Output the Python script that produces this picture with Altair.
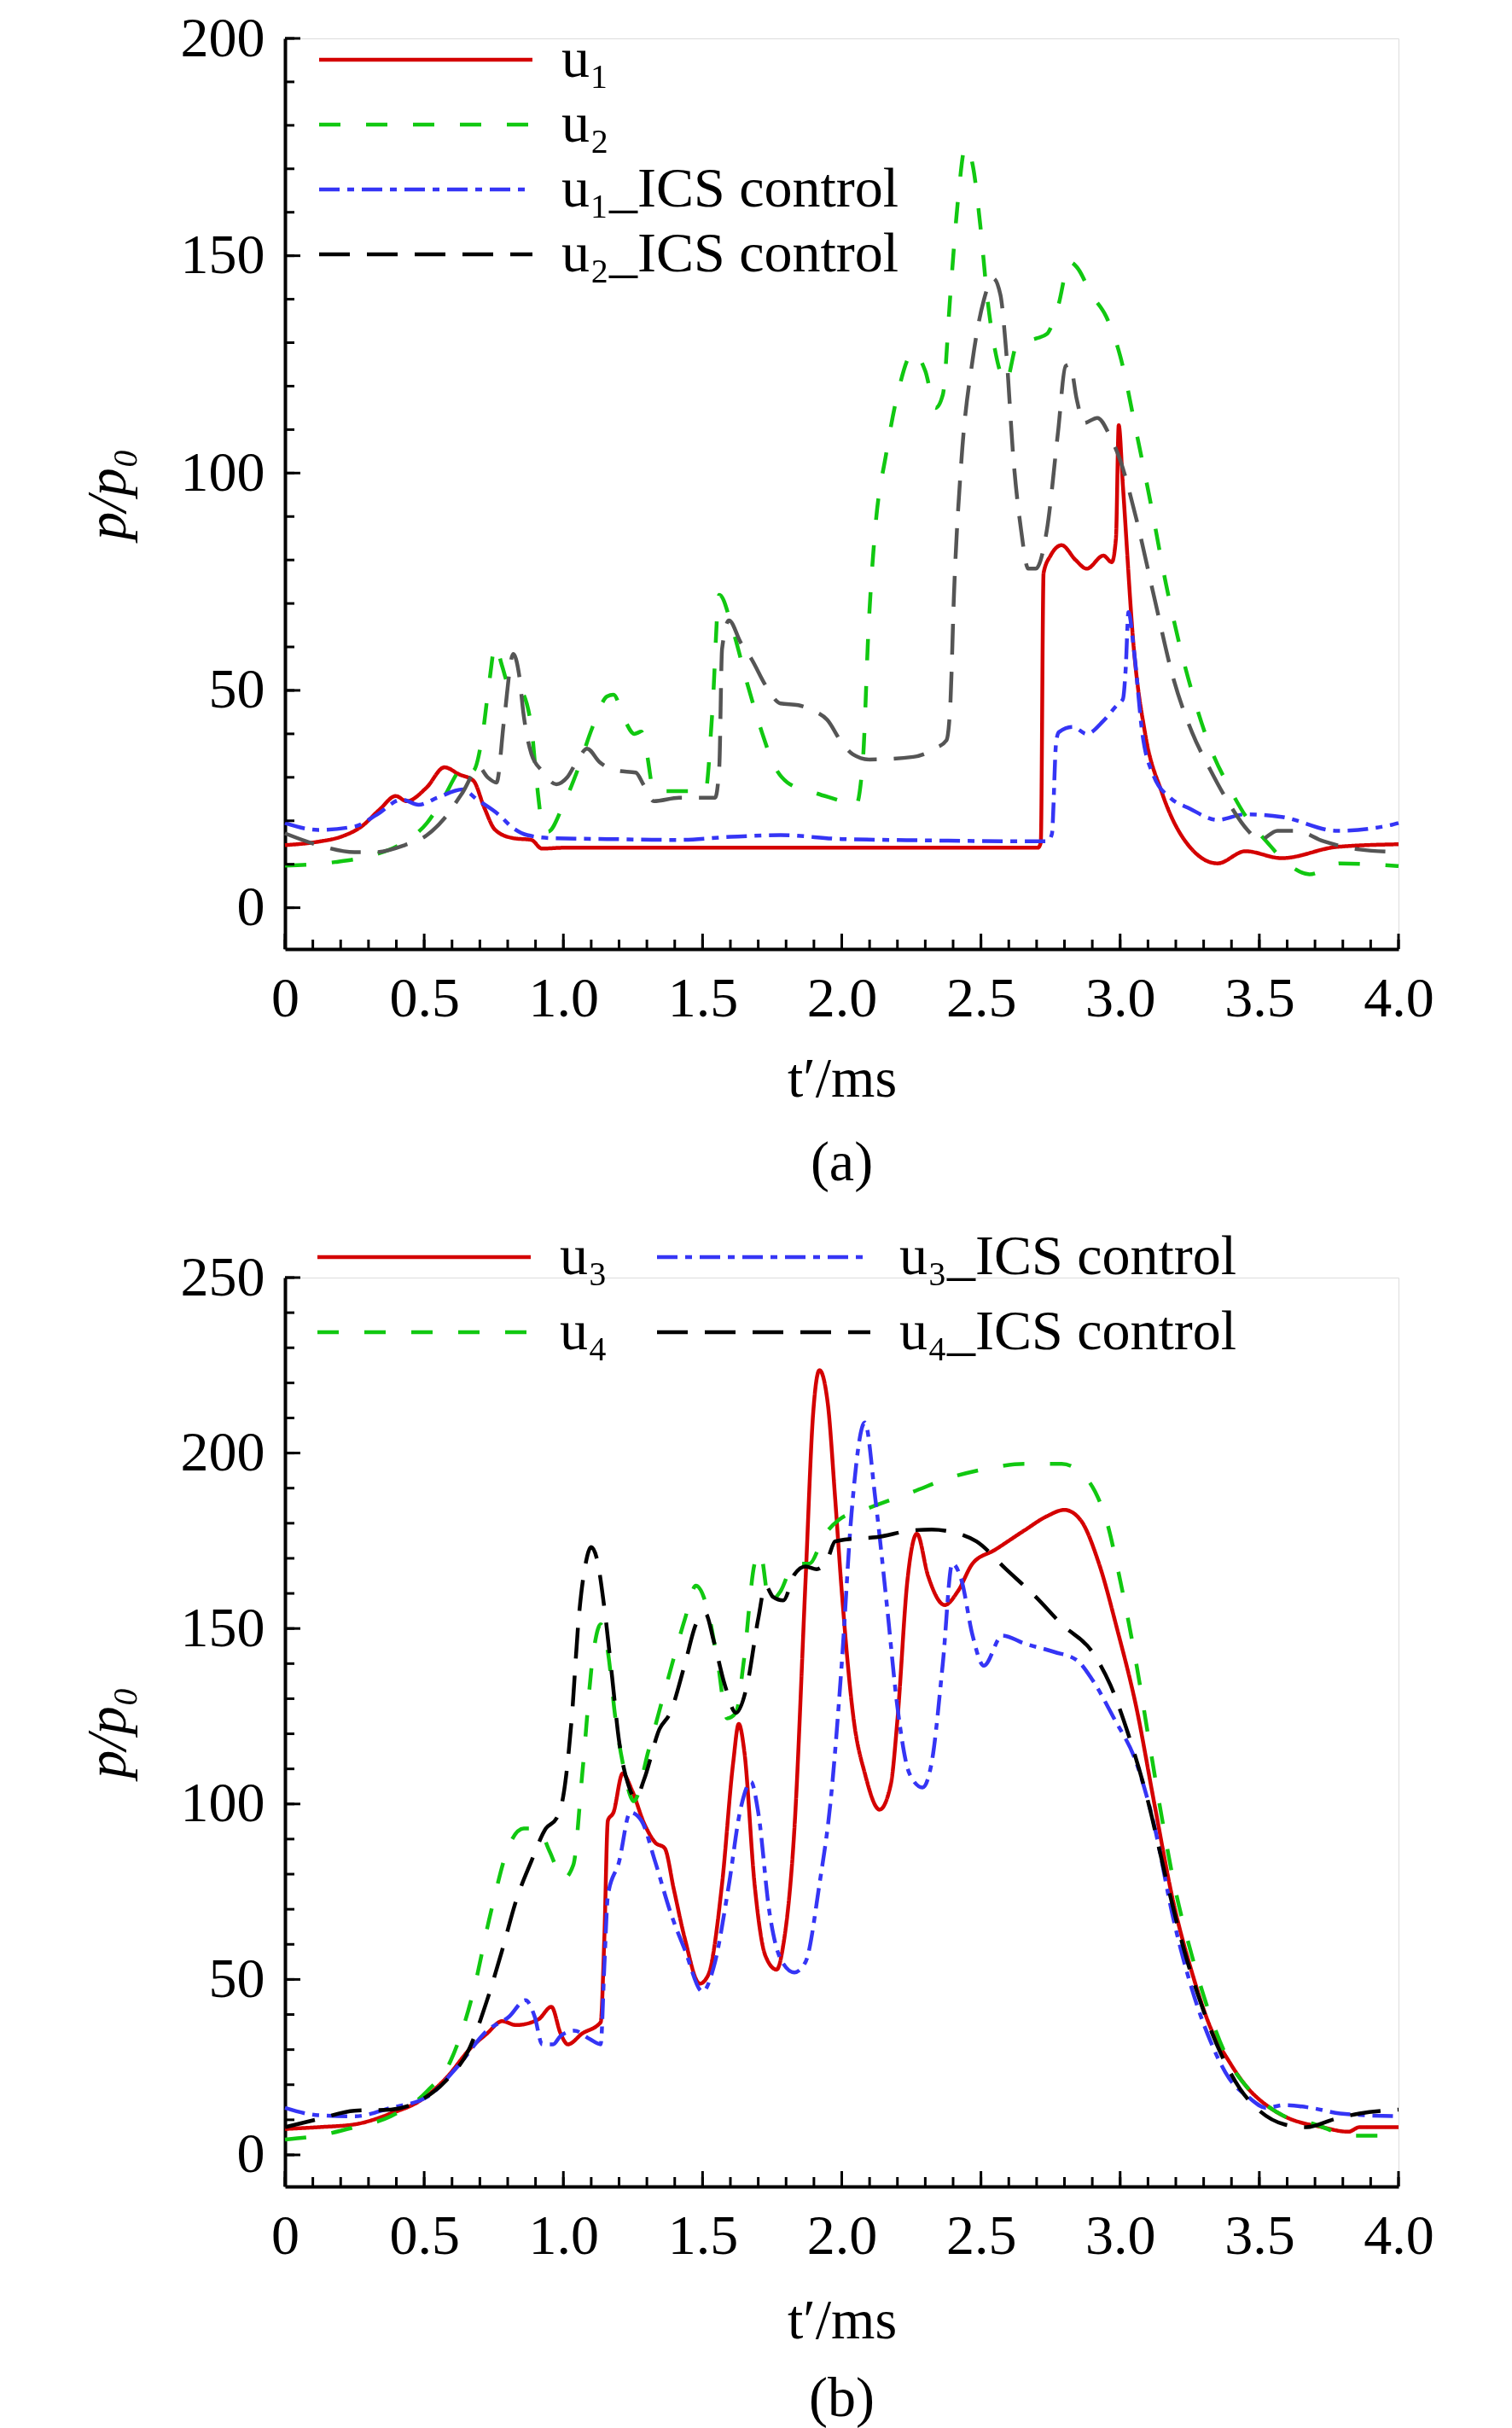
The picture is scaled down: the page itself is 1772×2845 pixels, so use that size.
import altair as alt
import pandas as pd

# ---------------- Panel (a) data ----------------
u1_t = [0, 0.12, 0.2, 0.275, 0.34, 0.398, 0.437, 0.508, 0.573, 0.625, 0.677, 0.716, 0.755, 0.82, 0.885, 0.923,
        1.0, 1.5, 2.0, 2.5, 2.705, 2.715, 2.725, 2.75, 2.79, 2.84, 2.88, 2.94, 2.97, 2.985, 2.995, 3.01, 3.05,
        3.09, 3.15, 3.25, 3.35, 3.45, 3.58, 3.78, 4.0]
u1_v = [14.4, 15.2, 16.3, 18.7, 22.6, 25.7, 24.5, 27.6, 32.3, 30.7, 29.2, 23.0, 17.9, 16.0, 15.6, 13.6,
        13.8, 13.8, 13.8, 13.8, 13.8, 15.0, 77.0, 81.0, 83.4, 80.0, 78.0, 81.0, 79.5, 85.0, 111.0, 97.0, 59.0,
        40.0, 26.5, 14.0, 10.2, 13.0, 11.4, 14.0, 14.6]

u2_t = [0, 0.18, 0.31, 0.42, 0.51, 0.57, 0.625, 0.65, 0.675, 0.71, 0.735, 0.755, 0.78, 0.8, 0.845, 0.885,
        0.905, 0.925, 0.945, 1.0, 1.05, 1.105, 1.157, 1.18, 1.22, 1.255, 1.28, 1.3, 1.325, 1.39, 1.47, 1.51,
        1.535, 1.56, 1.61, 1.66, 1.715, 1.755, 1.805, 1.9, 2.0, 2.05, 2.076, 2.096, 2.12, 2.16, 2.2, 2.257,
        2.3, 2.337, 2.363, 2.39, 2.417, 2.444, 2.47, 2.497, 2.524, 2.55, 2.59, 2.63, 2.7, 2.737, 2.778, 2.818,
        2.844, 2.898, 2.95, 3.0, 3.058, 3.11, 3.165, 3.218, 3.272, 3.325, 3.39, 3.46, 3.525, 3.59, 3.68,
        3.79, 4.0]
u2_v = [9.7, 10.5, 12.0, 14.8, 19.5, 25.3, 31.5, 33.0, 31.5, 40.0, 52.5, 60.3, 55.6, 51.7, 50.2, 41.6,
        28.4, 19.0, 17.5, 23.7, 31.5, 41.6, 48.6, 49.0, 43.2, 40.0, 40.5, 35.4, 26.8, 26.8, 26.8, 26.8,
        45.0, 72.0, 63.6, 51.7, 40.0, 33.0, 28.8, 26.5, 24.5, 23.4, 34.0, 64.0, 87.0, 104.6, 118.0, 127.8,
        123.5, 115.0, 118.0, 141.0, 162.5, 175.0, 171.0, 157.4, 139.7, 128.5, 121.0, 129.7, 131.0, 132.0,
        138.6, 148.6, 147.4, 141.0, 136.0, 127.0, 109.5, 93.0, 74.4, 59.3, 46.7, 36.7, 27.9, 20.2, 15.3,
        10.8, 7.7, 10.2, 9.6]

u1c_t = [0, 0.12, 0.25, 0.33, 0.42, 0.48, 0.547, 0.638, 0.69, 0.768, 0.82, 0.87, 0.962, 1.157, 1.416, 1.6,
         1.78, 2.0, 2.3, 2.6, 2.74, 2.755, 2.77, 2.78, 2.83, 2.88, 2.94, 2.99, 3.01, 3.02, 3.03, 3.05, 3.08,
         3.12, 3.18, 3.25, 3.35, 3.45, 3.58, 3.78, 3.97, 4.0]
u1c_v = [19.5, 17.9, 18.7, 21.4, 24.9, 23.7, 25.3, 27.2, 24.9, 21.4, 18.3, 16.7, 16.0, 15.8, 15.6, 16.3,
         16.7, 15.8, 15.5, 15.3, 15.3, 17.0, 38.0, 40.4, 41.6, 40.0, 43.0, 46.7, 48.0, 55.0, 68.0, 59.0, 40.0,
         30.4, 25.3, 22.8, 20.2, 21.5, 20.9, 17.7, 19.0, 19.5]

u2c_t = [0, 0.12, 0.25, 0.327, 0.43, 0.51, 0.573, 0.638, 0.697, 0.728, 0.76, 0.787, 0.82, 0.84, 0.858, 0.885,
         0.923, 0.975, 1.014, 1.053, 1.085, 1.13, 1.196, 1.26, 1.287, 1.325, 1.416, 1.545, 1.56, 1.57, 1.595,
         1.637, 1.676, 1.728, 1.78, 1.844, 1.896, 1.948, 2.0, 2.04, 2.1, 2.257, 2.337, 2.376, 2.39, 2.403,
         2.43, 2.47, 2.51, 2.544, 2.57, 2.59, 2.617, 2.644, 2.67, 2.697, 2.737, 2.777, 2.804, 2.82, 2.844,
         2.87, 2.918, 2.965, 3.0, 3.058, 3.125, 3.19, 3.258, 3.325, 3.39, 3.46, 3.5, 3.565, 3.633, 3.73, 3.86,
         4.0]
u2c_v = [17.1, 14.4, 12.8, 12.8, 14.4, 16.7, 20.6, 26.5, 32.3, 30.0, 28.8, 43.2, 58.4, 54.0, 44.0, 35.4,
         31.5, 28.4, 30.0, 34.2, 36.6, 33.5, 31.5, 31.1, 28.4, 24.5, 25.3, 25.3, 32.3, 59.5, 66.1,
         61.0, 57.2, 51.0, 47.0, 46.6, 45.4, 43.2, 38.0, 35.3, 34.1, 34.7, 36.7, 38.5, 46.7, 71.8,
         103.0, 126.0, 139.7, 144.8, 141.0, 128.6, 103.0, 87.0, 78.0, 78.0, 87.0, 109.5, 124.6, 125.0, 117.0,
         111.5, 112.7, 108.3, 103.0, 89.5, 70.7, 53.0, 40.4, 31.6, 24.1, 17.7, 15.5, 17.7, 17.7, 15.3, 13.4,
         12.8]

# ---------------- Panel (b) data ----------------
u3_t = [0, 0.12, 0.25, 0.38, 0.49, 0.58, 0.67, 0.726, 0.78, 0.83, 0.91, 0.957, 0.99, 1.016, 1.068, 1.134,
        1.147, 1.16, 1.18, 1.213, 1.246, 1.29, 1.33, 1.364, 1.397, 1.437, 1.49, 1.52, 1.57, 1.61, 1.63, 1.65,
        1.687, 1.726, 1.766, 1.79, 1.83, 1.87, 1.897, 1.92, 1.95, 1.976, 2.0, 2.043, 2.083, 2.136, 2.176, 2.2,
        2.236, 2.27, 2.31, 2.37, 2.417, 2.47, 2.55, 2.657, 2.737, 2.8, 2.857, 2.924, 2.99, 3.058, 3.125, 3.19,
        3.258, 3.325, 3.39, 3.46, 3.525, 3.59, 3.726, 3.82, 3.86, 4.0]
u3_v = [7.4, 7.9, 8.7, 11.8, 15.7, 22.0, 30.7, 34.6, 38.1, 37.0, 38.6, 42.2, 34.6, 31.5, 34.6, 37.8,
        61.4, 95.3, 97.6, 108.7, 104.0, 94.5, 89.0, 87.4, 75.6, 61.4, 48.8, 51.2, 77.2, 111.8, 122.8, 115.0,
        77.0, 56.7, 52.8, 59.8, 93.0, 163.8, 211.0, 223.6, 214.0, 187.4, 160.6, 124.0, 108.7, 98.4, 105.5,
        124.0, 163.8, 177.0, 165.0, 156.7, 160.6, 168.5, 172.4, 178.0, 182.0, 183.8, 181.0, 168.5, 149.6,
        127.6, 99.2, 72.4, 52.0, 36.2, 26.8, 18.9, 14.2, 11.0, 7.9, 6.6, 7.9, 7.9]

u4_t = [0, 0.12, 0.25, 0.38, 0.51, 0.595, 0.674, 0.74, 0.805, 0.858, 0.91, 0.95, 1.0, 1.036, 1.068, 1.108,
        1.134, 1.16, 1.187, 1.213, 1.253, 1.305, 1.37, 1.437, 1.476, 1.516, 1.555, 1.588, 1.62, 1.647, 1.687,
        1.707, 1.74, 1.78, 1.83, 1.884, 1.936, 1.99, 2.096, 2.257, 2.39, 2.524, 2.657, 2.79, 2.857, 2.91,
        2.95, 3.0, 3.058, 3.11, 3.15, 3.19, 3.258, 3.325, 3.39, 3.46, 3.525, 3.59, 3.7, 3.83, 4.0]
u4_v = [4.4, 5.5, 7.9, 11.0, 18.1, 26.8, 45.7, 69.3, 88.2, 93.0, 93.0, 86.6, 78.7, 82.7, 108.7, 143.3,
        151.2, 143.3, 124.4, 111.8, 100.8, 115.0, 133.9, 152.8, 162.2, 156.0, 140.0, 124.4, 126.0, 140.0,
        168.5, 171.6, 157.5, 160.6, 168.5, 168.5, 176.4, 181.0, 184.3, 189.0, 193.0, 195.6, 196.9, 196.9,
        194.5, 189.0, 181.0, 163.8, 140.0, 115.0, 96.0, 78.7, 56.7, 39.4, 26.8, 18.9, 14.2, 11.0, 8.7, 5.5,
        5.5]

u3c_t = [0, 0.12, 0.25, 0.38, 0.51, 0.62, 0.726, 0.805, 0.864, 0.897, 0.924, 0.963, 0.99, 1.04, 1.095, 1.134,
         1.147, 1.16, 1.2, 1.24, 1.28, 1.33, 1.384, 1.437, 1.5, 1.54, 1.595, 1.634, 1.674, 1.7, 1.74, 1.78,
         1.83, 1.87, 1.92, 1.96, 2.0, 2.035, 2.083, 2.12, 2.163, 2.2, 2.243, 2.29, 2.323, 2.363, 2.397, 2.43,
         2.47, 2.51, 2.577, 2.657, 2.764, 2.844, 2.9, 2.978, 3.058, 3.125, 3.19, 3.258, 3.325, 3.39, 3.46,
         3.525, 3.59, 3.686, 3.79, 4.0]
u3c_v = [13.4, 11.3, 11.0, 13.4, 16.5, 25.2, 35.4, 39.4, 44.1, 39.4, 31.5, 31.5, 33.9, 35.4, 33.0, 31.5,
         53.5, 74.0, 83.5, 97.6, 95.3, 83.5, 69.3, 58.3, 46.5, 53.5, 77.2, 97.6, 106.3, 97.6, 69.3, 55.9,
         52.0, 55.0, 77.2, 100.8, 140.0, 182.7, 208.7, 187.4, 156.0, 127.6, 108.7, 104.7, 111.8, 140.0, 168.5,
         163.8, 148.0, 139.4, 148.0, 145.7, 143.3, 141.0, 135.4, 124.4, 111.8, 93.0, 67.7, 47.2, 32.3, 22.0,
         16.5, 13.4, 14.2, 13.4, 11.8, 11.0]

u4c_t = [0, 0.12, 0.25, 0.38, 0.49, 0.58, 0.66, 0.726, 0.78, 0.83, 0.884, 0.937, 0.976, 1.0, 1.03, 1.055,
         1.08, 1.1, 1.12, 1.147, 1.174, 1.2, 1.233, 1.26, 1.29, 1.345, 1.384, 1.437, 1.476, 1.51, 1.54, 1.58,
         1.62, 1.66, 1.7, 1.726, 1.753, 1.79, 1.83, 1.87, 1.91, 1.95, 1.976, 2.04, 2.123, 2.257, 2.323, 2.39,
         2.484, 2.59, 2.697, 2.79, 2.9, 2.965, 3.03, 3.1, 3.165, 3.23, 3.3, 3.365, 3.43, 3.5, 3.59, 3.67, 3.77,
         3.86, 4.0]
u4c_v = [7.9, 10.2, 12.6, 12.9, 15.7, 21.3, 29.9, 44.1, 58.3, 72.4, 83.5, 93.0, 96.0, 102.4, 124.4, 152.8,
         168.5, 173.2, 170.0, 156.0, 137.0, 118.0, 105.5, 101.6, 107.0, 121.3, 126.0, 140.0, 151.2, 154.3,
         146.5, 133.9, 126.0, 133.9, 152.8, 162.2, 159.0, 158.0, 165.4, 167.7, 166.9, 170.0, 174.8, 175.6,
         176.0, 178.0, 178.2, 177.6, 174.8, 166.9, 159.0, 151.2, 143.3, 133.9, 119.7, 100.8, 78.7, 58.3, 41.0,
         28.3, 18.9, 12.6, 8.7, 7.9, 10.2, 11.8, 12.9]

# ---------------- labels / ticks ----------------
names_a = ["u₁", "u₂", "u₁_ICS control", "u₂_ICS control"]
names_b = ["u₃", "u₄", "u₃_ICS control", "u₄_ICS control"]
x_major = [0, 0.5, 1.0, 1.5, 2.0, 2.5, 3.0, 3.5, 4.0]
x_minor = [i / 10 for i in range(0, 41)]
y_major_a = [0, 50, 100, 150, 200]
y_minor_a = [i * 10 for i in range(0, 21)]
y_major_b = [0, 50, 100, 150, 200, 250]
y_minor_b = [i * 10 for i in range(0, 26)]

RED = "#D40000"
GREEN = "#11C811"
BLUE = "#3535F5"
BLACK = "#000000"
GRAY = "#555555"
DASH_SOLID = [1, 0]
DASH_GREEN = [25, 30]
DASH_DOTDASH = [24, 9, 8, 9]
DASH_BLACK = [36, 20]

FONT = "Liberation Serif"
FS = 66
W = 1305
LW = 4.5


def frame(ts, vs, name):
    return pd.DataFrame({"t": ts, "v": vs, "s": name})


def panel(df_main, overlay, names, colors, dashes, ymin, ymax, H, y_major, y_minor,
          cols, lx, ly, rowpad, colpad, caption, title_pad, cap_offset):
    legend = alt.Legend(
        orient="none", legendX=lx, legendY=ly, title=None, columns=cols, columnPadding=colpad,
        symbolType="M-5,0H5", symbolSize=2500, symbolStrokeWidth=LW, labelFont=FONT,
        labelFontSize=FS, labelColor="black", labelOffset=126, rowPadding=rowpad, labelLimit=0,
        padding=0,
    )
    xs = alt.Scale(domain=[0, 4], nice=False, zero=False)
    ys = alt.Scale(domain=[ymin, ymax], nice=False, zero=False)
    xaxis = alt.Axis(
        values=x_major, ticks=False, grid=False, domainWidth=4, domainColor="black",
        labelFont=FONT, labelFontSize=FS, labelColor="black", labelPadding=26, labelFlush=False,
        labelExpr="datum.value == 0 ? '0' : format(datum.value, '.1f')",
        title="t′/ms", titleFont=FONT, titleFontSize=FS, titleFontWeight="normal",
        titleColor="black", titlePadding=title_pad,
    )
    yaxis = alt.Axis(
        values=y_major, ticks=False, grid=False, domainWidth=4, domainColor="black",
        labelFont=FONT, labelFontSize=FS, labelColor="black", labelPadding=24, format="d",
        title="p/p₀", titleFont=FONT, titleFontSize=FS, titleFontWeight="normal",
        titleFontStyle="italic", titleColor="black", titlePadding=51,
    )
    X = alt.X("t:Q", scale=xs, axis=xaxis)
    Y = alt.Y("v:Q", scale=ys, axis=yaxis)
    lines = alt.Chart(df_main).mark_line(strokeWidth=LW, interpolate="monotone").encode(
        x=X, y=Y,
        color=alt.Color("s:N", scale=alt.Scale(domain=names, range=colors), legend=legend),
        strokeDash=alt.StrokeDash("s:N", scale=alt.Scale(domain=names, range=dashes), legend=legend),
    )
    layers = [lines]
    if overlay is not None:
        layers.append(
            alt.Chart(overlay).mark_line(strokeWidth=LW, interpolate="monotone", color=GRAY,
                                         strokeDash=DASH_BLACK).encode(x=X, y=Y)
        )
    xmin_df = pd.DataFrame({"t": x_minor})
    xmaj_df = pd.DataFrame({"t": x_major})
    ymin_df = pd.DataFrame({"v": y_minor})
    ymaj_df = pd.DataFrame({"v": y_major})
    layers.append(alt.Chart(xmin_df).mark_rule(color="black", strokeWidth=3).encode(
        x=X, y=alt.value(H), y2=alt.value(H - 11)))
    layers.append(alt.Chart(xmaj_df).mark_rule(color="black", strokeWidth=3).encode(
        x=X, y=alt.value(H), y2=alt.value(H - 18)))
    layers.append(alt.Chart(ymin_df).mark_rule(color="black", strokeWidth=3).encode(
        y=Y, x=alt.value(0), x2=alt.value(11)))
    layers.append(alt.Chart(ymaj_df).mark_rule(color="black", strokeWidth=3).encode(
        y=Y, x=alt.value(0), x2=alt.value(18)))
    return alt.layer(*layers).properties(
        width=W, height=H,
        title=alt.TitleParams(caption, orient="bottom", font=FONT, fontSize=FS,
                              fontWeight="normal", color="black", offset=cap_offset),
    )


df_a = pd.concat([frame(u1_t, u1_v, names_a[0]), frame(u2_t, u2_v, names_a[1]),
                  frame(u1c_t, u1c_v, names_a[2])], ignore_index=True)
df_a_gray = frame(u2c_t, u2c_v, names_a[3])
df_b = pd.concat([frame(u3_t, u3_v, names_b[0]), frame(u4_t, u4_v, names_b[1]),
                  frame(u3c_t, u3c_v, names_b[2]), frame(u4c_t, u4c_v, names_b[3])], ignore_index=True)

chart_a = panel(df_a, df_a_gray, names_a, [RED, GREEN, BLUE, BLACK],
                [DASH_SOLID, DASH_GREEN, DASH_DOTDASH, DASH_BLACK],
                -9.5, 200, 1067, y_major_a, y_minor_a, 1, 132, -8, 10, 70, "(a)", 29, 34)
chart_b = panel(df_b, None, names_b, [RED, GREEN, BLUE, BLACK],
                [DASH_SOLID, DASH_GREEN, DASH_DOTDASH, DASH_BLACK],
                -9, 250, 1065, y_major_b, y_minor_b, 2, 130, -57, 22, 48, "(b)", 34, 27)

chart = alt.vconcat(chart_a, chart_b, spacing=385, bounds="flush").resolve_scale(
    color="independent", strokeDash="independent", x="independent", y="independent"
).resolve_legend(color="independent", strokeDash="independent").properties(
    padding={"left": 84, "top": 3, "right": 10, "bottom": 5}
).configure_view(stroke=None).configure(background="white")

chart.save("out.html", embed_options={"renderer": "svg", "actions": False})
